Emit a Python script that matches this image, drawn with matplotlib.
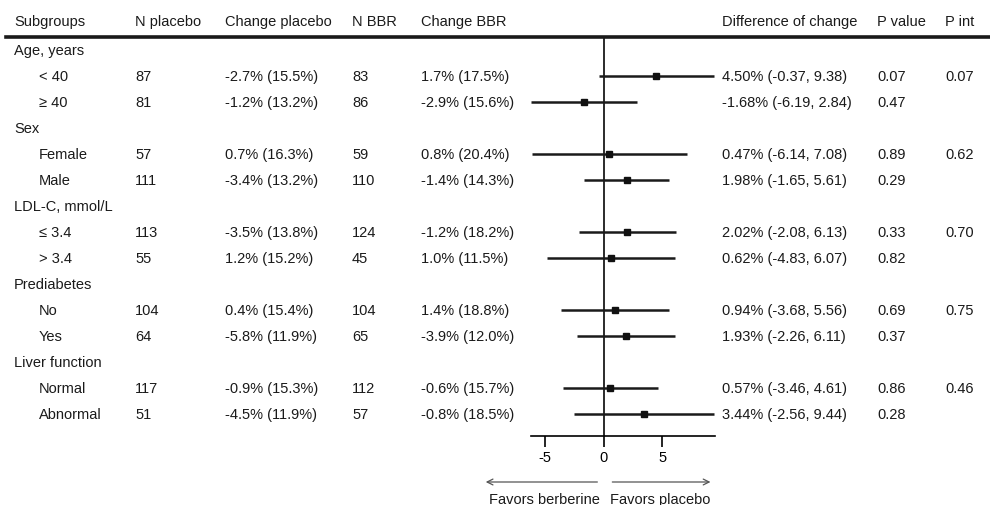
import matplotlib.pyplot as plt
import matplotlib.transforms as mtransforms

plt.rcParams.update({
    "font.family": ["Liberation Sans", "DejaVu Sans"],
    "font.size": 10.5,
    "axes.unicode_minus": False,
    "text.color": "#1a1a1a",
})

# --- data ---
headers = ["Subgroups", "N placebo", "Change placebo", "N BBR", "Change BBR",
           "Difference of change", "P value", "P int"]
groups = ["Age, years", "Sex", "LDL-C, mmol/L", "Prediabetes", "Liver function"]
subgroups = ["< 40", "≥ 40", "Female", "Male", "≤ 3.4", "> 3.4",
             "No", "Yes", "Normal", "Abnormal"]
n_placebo = [87, 81, 57, 111, 113, 55, 104, 64, 117, 51]
chg_placebo = ["-2.7% (15.5%)", "-1.2% (13.2%)", "0.7% (16.3%)", "-3.4% (13.2%)",
               "-3.5% (13.8%)", "1.2% (15.2%)", "0.4% (15.4%)", "-5.8% (11.9%)",
               "-0.9% (15.3%)", "-4.5% (11.9%)"]
n_bbr = [83, 86, 59, 110, 124, 45, 104, 65, 112, 57]
chg_bbr = ["1.7% (17.5%)", "-2.9% (15.6%)", "0.8% (20.4%)", "-1.4% (14.3%)",
           "-1.2% (18.2%)", "1.0% (11.5%)", "1.4% (18.8%)", "-3.9% (12.0%)",
           "-0.6% (15.7%)", "-0.8% (18.5%)"]
diff = [4.50, -1.68, 0.47, 1.98, 2.02, 0.62, 0.94, 1.93, 0.57, 3.44]
ci_low = [-0.37, -6.19, -6.14, -1.65, -2.08, -4.83, -3.68, -2.26, -3.46, -2.56]
ci_high = [9.38, 2.84, 7.08, 5.61, 6.13, 6.07, 5.56, 6.11, 4.61, 9.44]
p_value = ["0.07", "0.47", "0.89", "0.29", "0.33", "0.82", "0.69", "0.37", "0.86", "0.28"]
p_int = ["0.07", "0.62", "0.70", "0.75", "0.46"]

W, H = 990, 506
fig = plt.figure(figsize=(W / 100, H / 100), dpi=100)

# forest axes placed where the plot sits in the table
x0, x1, ytop, ybot = 531, 715, 38, 437
ax = fig.add_axes([x0 / W, (H - ybot) / H, (x1 - x0) / W, (ybot - ytop) / H])
row0, step = 51, 26
ax.set_xlim(-6.2, 9.5)
ax.set_ylim((ybot - row0) / step, (ytop - row0) / step)
for s in ["top", "left", "right"]:
    ax.spines[s].set_visible(False)
ax.spines["bottom"].set_linewidth(1.2)
ax.set_yticks([])
ax.set_xticks([-5, 0, 5])
ax.tick_params(axis="x", length=8, width=1.2, pad=2, labelsize=10.5)
ax.axvline(0, color="#1a1a1a", lw=1.3)

# row layout: group header then two subgroup rows
rows_sub = []
r = 0
for g in range(len(groups)):
    r += 1
    rows_sub.extend([r, r + 1])
    r += 2
rows_grp = [i * 3 for i in range(len(groups))]

for i, yy in enumerate(rows_sub):
    ax.plot([ci_low[i], ci_high[i]], [yy, yy], color="#1a1a1a", lw=1.8,
            solid_capstyle="butt", clip_on=False)
    ax.plot(diff[i], yy, marker="s", ms=5, color="#111111", clip_on=False)

# table text
tr = mtransforms.blended_transform_factory(fig.transFigure, ax.transData)
col_x = [14, 135, 225, 352, 421, 722, 877, 945]
hdr_y = (22 - row0) / step
for h, cx in zip(headers, col_x):
    fig.text(cx / W, hdr_y, h, transform=tr, va="center", ha="left")

fig.add_artist(plt.Line2D([6 / W, 1.0], [-0.5, -0.5], transform=tr,
                          color="#1a1a1a", lw=2.6))

for k, (g, yy) in enumerate(zip(groups, rows_grp)):
    fig.text(14 / W, yy, g, transform=tr, va="center")
    fig.text(col_x[7] / W, yy + 1, p_int[k], transform=tr, va="center")

for i, yy in enumerate(rows_sub):
    vals = [subgroups[i], str(n_placebo[i]), chg_placebo[i], str(n_bbr[i]), chg_bbr[i],
            f"{diff[i]:.2f}% ({ci_low[i]:.2f}, {ci_high[i]:.2f})", p_value[i]]
    xs = [39] + col_x[1:7]
    for v, cx in zip(vals, xs):
        fig.text(cx / W, yy, v, transform=tr, va="center")

# direction arrows
arr_y = (483 - row0) / step
lab_y = (500 - row0) / step
ax.annotate("", xy=(-10.3, arr_y), xytext=(-0.3, arr_y), annotation_clip=False,
            arrowprops=dict(arrowstyle="->", color="#555555", lw=0.9))
ax.annotate("", xy=(9.35, arr_y), xytext=(0.5, arr_y), annotation_clip=False,
            arrowprops=dict(arrowstyle="->", color="#555555", lw=0.9))
ax.text(-0.35, lab_y, "Favors berberine", ha="right", va="center", clip_on=False)
ax.text(0.5, lab_y, "Favors placebo", ha="left", va="center", clip_on=False)

fig.savefig("out.png", dpi=100)
